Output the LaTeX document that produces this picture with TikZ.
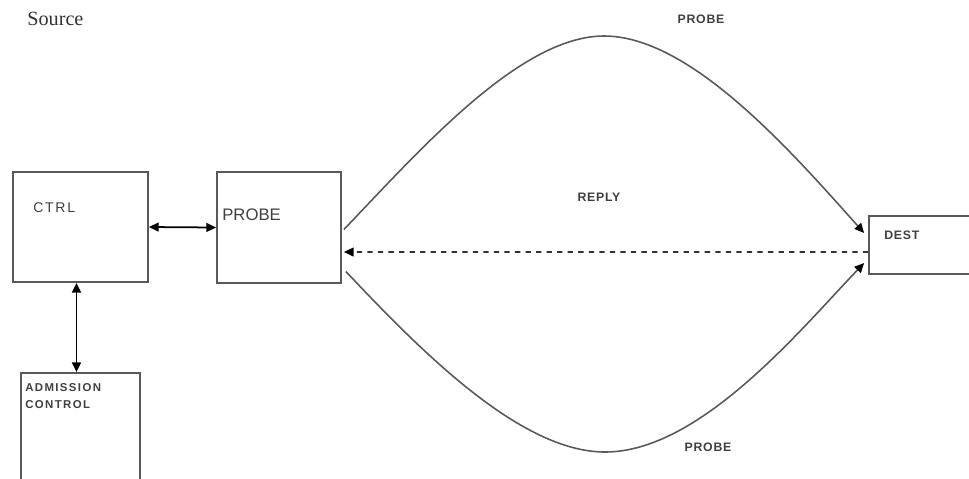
\documentclass[tikz,border=0pt]{standalone}
\usepackage{fontspec}
\setmainfont{Liberation Serif}
\newfontfamily\lblfont[LetterSpace=6]{Liberation Sans}
\newfontfamily\boxfont[LetterSpace=12]{Liberation Sans}
\newfontfamily\plainsans{Liberation Sans}
\usetikzlibrary{positioning,calc,arrows.meta}

\tikzset{
    block/.style={draw=black!65, line width=1pt, rectangle, inner sep=0pt},
    tag/.style={text=black!75, inner sep=0pt, font=\lblfont\bfseries\fontsize{7}{9}\selectfont},
    probepath/.style={draw=black!65, line width=0.9pt}
}

\begin{document}
\begin{tikzpicture}[x=0.02cm, y=-0.02cm, >={Triangle[length=5.5pt,width=5pt,color=black]}]
    \useasboundingbox (0,0) rectangle (969,478);
    \clip (0,0) rectangle (969,478);

    % Boxes
    \node[block, minimum width=135*0.02cm, minimum height=110*0.02cm] (ctrl) at (80.5,227) {};
    \node[block, minimum width=124*0.02cm, minimum height=111*0.02cm] (probe) at (279,227.5) {};
    \node[block, minimum width=119*0.02cm, minimum height=117*0.02cm] (adm) at (80.5,431.5) {};
    \node[block, minimum width=140*0.02cm, minimum height=58*0.02cm] (dest) at (939,245) {};

    % Box texts
    \node[anchor=base west, inner sep=0pt, text=black!75, font=\boxfont\fontsize{8}{10}\selectfont] (ctrltxt) at (33,212) {CTRL};
    \node[anchor=base west, inner sep=0pt, text=black!75, font=\plainsans\fontsize{9.5}{11}\selectfont] (probetxt) at (222,220) {PROBE};
    \node[anchor=north west, inner sep=0pt, text=black!75, align=left, font=\boxfont\bfseries\fontsize{6.5}{10}\selectfont] (admtxt) at (25,383) {ADMISSION\\CONTROL};
    \node[tag, anchor=base west] (desttxt) at (884,239) {DEST};

    % Free labels
    \node[anchor=base west, inner sep=0pt, text=black!80, font=\fontsize{11.5}{13}\selectfont] (src) at (27,25) {Source};
    \node[tag, anchor=base] (ptop) at (701,23) {PROBE};
    \node[tag, anchor=base] (reply) at (599,201) {REPLY};
    \node[tag, anchor=base] (pbot) at (708,451) {PROBE};

    % Local arrows
    \draw[<->, line width=1pt] (ctrl.east) -- (probe.west);
    \draw[<->, line width=1pt] ($(ctrl.south)+(-4,0)$) -- ($(adm.north)+(-4,0)$);

    % Probe paths
    \draw[probepath, ->] ($(probe.east)+(2,2)$) .. controls (420,150) and (520,36) .. (604,36)
        .. controls (690,36) and (790,150) .. ($(dest.west)+(-4,-12)$);
    \draw[probepath, ->] ($(probe.east)+(4,44)$) .. controls (420,350) and (520,452) .. (605,452)
        .. controls (700,452) and (800,330) .. ($(dest.west)+(-4,18)$);

    % Reply
    \draw[->, dashed, line width=0.9pt, black!80] ($(dest.west)+(0,7)$) -- ($(probe.east)+(2,24.5)$);
\end{tikzpicture}
\end{document}
